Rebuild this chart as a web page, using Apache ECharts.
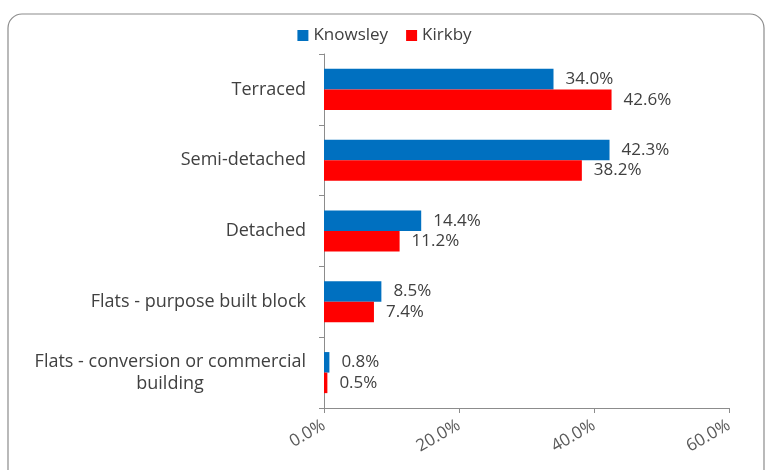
<!DOCTYPE html>
<html>
<head>
<meta charset="utf-8">
<script src="https://cdn.jsdelivr.net/npm/echarts@6/dist/echarts.min.js"></script>
<style>
  html, body { margin: 0; padding: 0; background: #fff; }
  #main { width: 769px; height: 470px; }
</style>
</head>
<body>
<div id="main"></div>
<script>
var categories = ['Terraced', 'Semi-detached', 'Detached', 'Flats - purpose built block', 'Flats - conversion or commercial building'];
var knowsley = [34.0, 42.3, 14.4, 8.5, 0.8];
var kirkby = [42.6, 38.2, 11.2, 7.4, 0.5];
var xTicks = [0, 20, 40, 60];

var chartDom = document.getElementById('main');
var myChart = echarts.init(chartDom);
var option;

var font = 'Open Sans';
var fontSize = 18;
var textColor = '#404040';
var longFirst = 'Flats - conversion or commercial';

// width of the first line so the second one can be centred under it
var ctx = document.createElement('canvas').getContext('2d');
ctx.font = fontSize + 'px "' + font + '"';
var firstLineWidth = Math.ceil(ctx.measureText(longFirst).width);

option = {
    animation: false,
    textStyle: { fontFamily: font },
    graphic: [{
        type: 'rect',
        shape: { x: 8, y: 14, width: 756, height: 480, r: 14 },
        style: { fill: 'none', stroke: '#8c8c8c', lineWidth: 1.2 },
        silent: true
    }],
    legend: {
        top: 22,
        left: 'center',
        itemWidth: 11,
        itemHeight: 11,
        itemGap: 18,
        icon: 'rect',
        textStyle: { color: textColor, fontSize: 17, fontFamily: font }
    },
    grid: {
        left: 324,
        right: 40,
        top: 54,
        bottom: 62
    },
    xAxis: {
        type: 'value',
        min: xTicks[0],
        max: xTicks[xTicks.length - 1],
        interval: xTicks[1] - xTicks[0],
        splitLine: { show: false },
        axisLine: { show: true, lineStyle: { color: '#8c8c8c' } },
        axisTick: { show: true, length: 5, lineStyle: { color: '#8c8c8c' } },
        axisLabel: {
            rotate: 30,
            color: '#595959',
            fontSize: 17,
            margin: 16,
            formatter: function (v) { return v.toFixed(1) + '%'; }
        }
    },
    yAxis: {
        type: 'category',
        inverse: true,
        data: categories,
        axisLine: { show: true, lineStyle: { color: '#8c8c8c' } },
        axisTick: { show: true, length: 5, lineStyle: { color: '#8c8c8c' } },
        axisLabel: {
            color: textColor,
            fontSize: fontSize,
            margin: 18,
            lineHeight: 22,
            formatter: function (v) {
                if (v.indexOf('commercial') >= 0) {
                    return longFirst + '\n{b|building}';
                }
                return v;
            },
            rich: {
                b: { width: firstLineWidth, align: 'center', fontSize: fontSize, lineHeight: 22, color: textColor, fontFamily: font }
            }
        }
    },
    series: [
        {
            name: 'Knowsley',
            type: 'bar',
            data: knowsley,
            barGap: '0%',
            barCategoryGap: '42%',
            itemStyle: { color: '#0070c0' },
            label: {
                show: true,
                position: 'right',
                distance: 12,
                color: textColor,
                fontSize: 17,
                formatter: function (p) { return p.value.toFixed(1) + '%'; }
            }
        },
        {
            name: 'Kirkby',
            type: 'bar',
            data: kirkby,
            barGap: '0%',
            barCategoryGap: '42%',
            itemStyle: { color: '#ff0000' },
            label: {
                show: true,
                position: 'right',
                distance: 12,
                color: textColor,
                fontSize: 17,
                formatter: function (p) { return p.value.toFixed(1) + '%'; }
            }
        }
    ]
};

option && myChart.setOption(option);
</script>
</body>
</html>
